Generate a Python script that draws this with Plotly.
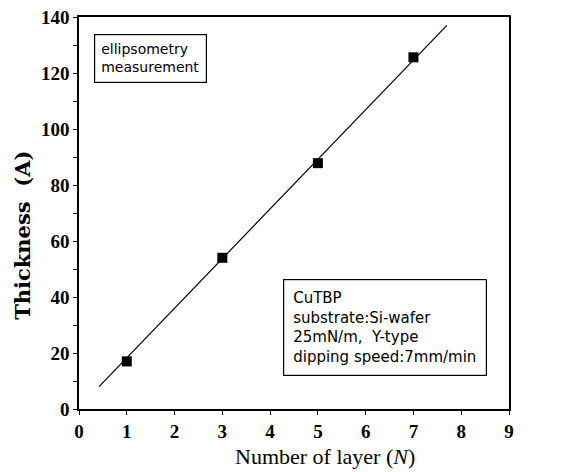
import plotly.graph_objects as go

layers = [1, 3, 5, 7]
thickness = [17.0, 54.0, 87.8, 125.6]
fit_x = [0.42, 7.7]
fit_y = [8.0, 137.0]

x_ticks = [0, 1, 2, 3, 4, 5, 6, 7, 8, 9]
y_ticks = [0, 20, 40, 60, 80, 100, 120, 140]

x_title = "Number of layer (<i>N</i>)"
y_title = "Thickness  (A)"
box1 = "ellipsometry<br>measurement"
box2 = "CuTBP<br>substrate:Si-wafer<br>25mN/m,  Y-type<br>dipping speed:7mm/min"

fig = go.Figure()
fig.add_trace(go.Scatter(x=fit_x, y=fit_y, mode="lines",
                         line=dict(color="black", width=1.2), showlegend=False))
fig.add_trace(go.Scatter(x=layers, y=thickness, mode="markers",
                         marker=dict(symbol="square", size=10, color="black"),
                         showlegend=False))

axis_common = dict(showline=True, linecolor="black", linewidth=1.5, mirror=True,
                   ticks="outside", ticklen=4, tickcolor="black", showgrid=False,
                   zeroline=False, automargin=False, ticklabeloverflow="allow",
                   tickfont=dict(family="Liberation Serif", size=19, color="black",
                                 weight="bold"))

fig.update_xaxes(range=[0, 9], tickvals=x_ticks, ticktext=[str(v) for v in x_ticks],
                 **axis_common)
fig.update_yaxes(range=[0, 140], tickvals=y_ticks, ticktext=[str(v) for v in y_ticks],
                 minor=dict(dtick=10, ticks="outside", ticklen=4, tickcolor="black"),
                 **axis_common)

# axis titles placed as annotations to match their off-centre positions
fig.add_annotation(xref="paper", yref="paper", x=(324 - 79) / 429, y=(409 - 457) / 392,
                   xanchor="center", yanchor="middle", text=x_title, showarrow=False,
                   font=dict(family="Liberation Serif", size=22, color="black"))
fig.add_annotation(xref="paper", yref="paper", x=(22 - 79) / 429, y=(409 - 235) / 392,
                   xanchor="center", yanchor="middle", text=y_title, showarrow=False,
                   textangle=-90,
                   font=dict(family="DejaVu Serif", size=21, color="black", weight="bold"))

fig.add_annotation(xref="paper", yref="paper", x=(94 - 79) / 429, y=(409 - 34) / 392,
                   xanchor="left", yanchor="top", text=box1, showarrow=False, align="left",
                   font=dict(family="DejaVu Sans", size=14, color="black"),
                   bordercolor="black", borderwidth=1.2, borderpad=6, bgcolor="white")
fig.add_annotation(xref="paper", yref="paper", x=(283 - 79) / 429, y=(409 - 279) / 392,
                   xanchor="left", yanchor="top", text=box2, showarrow=False, align="left",
                   font=dict(family="DejaVu Sans", size=15, color="black"),
                   bordercolor="black", borderwidth=1.2, borderpad=9, bgcolor="white")

fig.update_layout(width=579, height=472, margin=dict(l=79, r=70, t=17, b=63),
                  plot_bgcolor="white", paper_bgcolor="white")
fig.write_html("out.html", config={"displayModeBar": False},
               post_script="document.body.style.margin='0';")
